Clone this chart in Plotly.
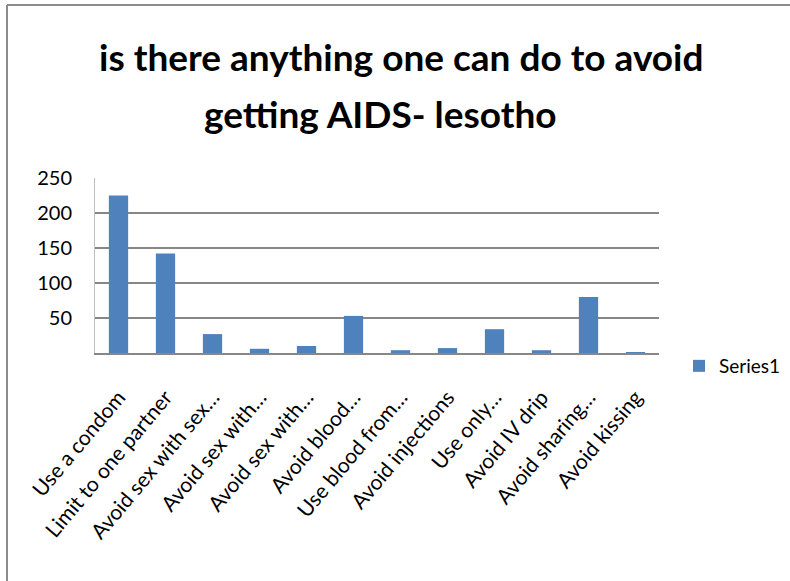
import plotly.graph_objects as go

# Responses: "is there anything one can do to avoid getting AIDS" (Lesotho)
categories = [
    "Use a condom",
    "Limit to one partner",
    "Avoid sex with sex…",
    "Avoid sex with…",
    "Avoid sex with…",
    "Avoid blood…",
    "Use blood from…",
    "Avoid injections",
    "Use only…",
    "Avoid IV drip",
    "Avoid sharing…",
    "Avoid kissing",
]
counts = [225, 142, 27, 6, 10, 53, 4, 7, 34, 4, 80, 1]
y_ticks = [50, 100, 150, 200, 250]
series_name = "Series1"
title_lines = ["is there anything one can do to avoid", "getting AIDS- lesotho"]

W, H = 790, 581
L, R, T, B = 95, 131, 178, 228
plot_w = W - L - R
plot_h = H - T - B


def px_x(x):
    return (x - L) / plot_w


def px_y(y):
    return (H - B - y) / plot_h


FONT = "Lato, Open Sans, sans-serif"
GRID = "#878787"

fig = go.Figure()
fig.add_trace(go.Bar(
    x=list(range(len(categories))),
    y=counts,
    name=series_name,
    marker=dict(color="#4F81BD", line=dict(width=0)),
    showlegend=True,
))

fig.update_layout(
    width=W, height=H,
    margin=dict(l=L, r=R, t=T, b=B, autoexpand=False),
    paper_bgcolor="white", plot_bgcolor="white",
    bargap=0.59,
    font=dict(family=FONT, color="black"),
    showlegend=True,
    legend=dict(
        x=px_x(679), y=px_y(366), xanchor="left", yanchor="middle",
        font=dict(size=19, family=FONT, color="black"),
        bgcolor="rgba(0,0,0,0)",
    ),
    xaxis=dict(
        type="linear",
        range=[-0.5, len(categories) - 0.5],
        tickmode="array",
        tickvals=list(range(len(categories))),
        ticktext=categories,
        tickangle=-50,
        tickfont=dict(size=21, family=FONT, color="black"),
        ticks="",
        ticklabelstandoff=22,
        automargin=False,
        showgrid=False,
        zeroline=False,
        showline=True, linecolor=GRID, linewidth=1.5,
    ),
    yaxis=dict(
        range=[0, 250],
        tickmode="array",
        tickvals=y_ticks,
        ticktext=[str(v) for v in y_ticks],
        tickfont=dict(size=20, family=FONT, color="black"),
        ticks="",
        ticklabelstandoff=18,
        automargin=False,
        showgrid=True, gridcolor=GRID, gridwidth=1.5,
        zeroline=False,
        showline=True, linecolor="#BFBFBF", linewidth=1,
    ),
)

# Two-line bold title
for text, cx, cy in [(title_lines[0], 401, 57), (title_lines[1], 380, 113)]:
    fig.add_annotation(
        text=f"<b>{text}</b>", showarrow=False,
        xref="paper", yref="paper", x=px_x(cx), y=px_y(cy),
        xanchor="center", yanchor="middle",
        font=dict(size=37, family=FONT, color="black"),
    )

# Chart frame (left and top edges)
fig.add_shape(type="line", xref="paper", yref="paper",
              x0=px_x(7), x1=px_x(7), y0=px_y(5), y1=px_y(H + 5),
              line=dict(color="#8C8C8C", width=2))
fig.add_shape(type="line", xref="paper", yref="paper",
              x0=px_x(7), x1=px_x(W + 5), y0=px_y(5), y1=px_y(5),
              line=dict(color="#8C8C8C", width=2))

fig.write_html("out.html")
